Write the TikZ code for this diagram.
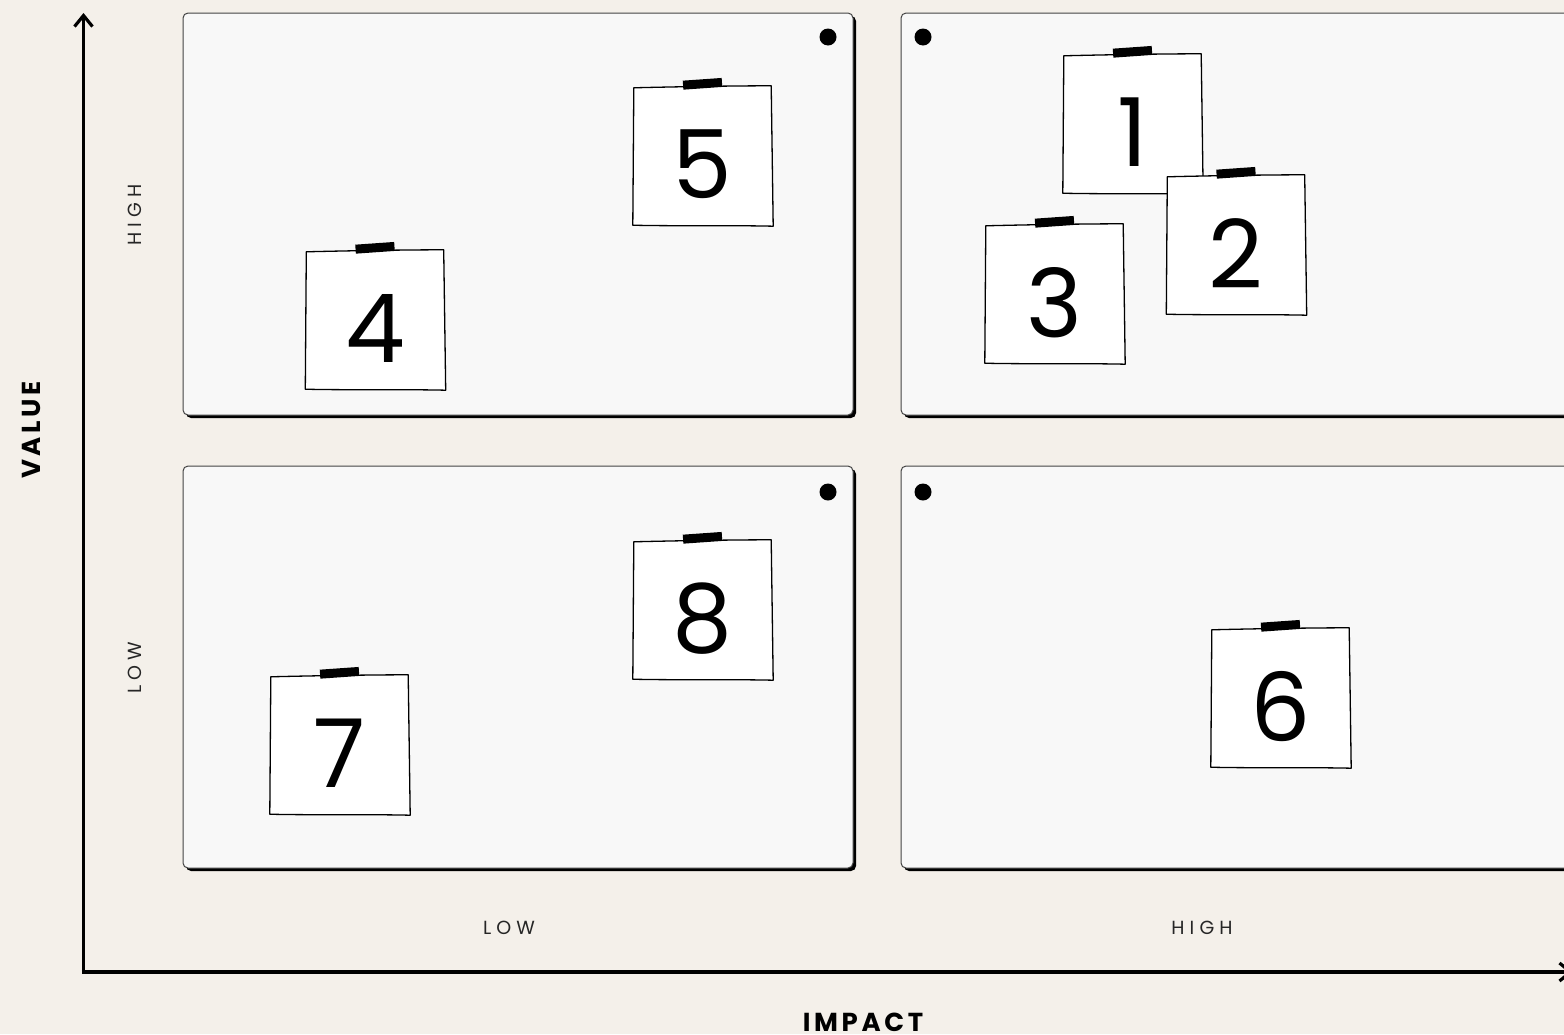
\documentclass[tikz,border=0pt]{standalone}
\usepackage{fontspec}
\setmainfont{Poppins}
\newfontfamily\axisfont[LetterSpace=14]{Poppins}
\newfontfamily\tickfont[LetterSpace=27]{Poppins}
\usetikzlibrary{arrows.meta,shadows}
\definecolor{bgbeige}{HTML}{F4F0EA}
\definecolor{quadfill}{HTML}{F8F8F8}
\definecolor{quadedge}{HTML}{444444}
\tikzset{
  quad/.style={draw=quadedge, line width=1pt, fill=quadfill, rounded corners=5pt,
    minimum width=670pt, minimum height=402pt, inner sep=0pt,
    drop shadow={shadow xshift=3pt, shadow yshift=-3pt, fill=black, opacity=1}},
  pin/.style={circle, fill=black, inner sep=0pt, minimum size=17pt},
  notebox/.style={fill=white, minimum width=139pt, minimum height=139pt, inner sep=0pt},
  noteline/.style={draw=black, line width=1.3pt, line join=round},
  tape/.style={fill=black, minimum width=39pt, minimum height=9pt, inner sep=0pt, rotate=4},
  num/.style={font=\fontsize{95}{95}\selectfont, inner sep=0pt},
  axisline/.style={line width=3.2pt, -{Straight Barb[length=11pt,width=18pt,line width=3.2pt]}},
  axislabel/.style={font=\axisfont\bfseries\fontsize{26}{26}\selectfont, inner sep=0pt},
  ticklabel/.style={font=\tickfont\fontsize{19}{19}\selectfont, text=black!85, inner sep=0pt}
}
\newcommand\stickynote[4]{%
  \node[notebox] (#1) at (#2,#3) {};
  \draw[noteline] ([shift={(1,1)}]#1.north west) .. controls ([shift={(40,0)}]#1.north west) and ([shift={(-40,-1)}]#1.north east) .. ([shift={(-1,-1)}]#1.north east)
     -- ([shift={(1,0)}]#1.south east) .. controls ([shift={(-40,-1)}]#1.south east) and ([shift={(40,0)}]#1.south west) .. ([shift={(0,-1)}]#1.south west) -- cycle;
  \node[tape] (#1t) at ([yshift=3pt]#1.north) {};
  \node[num] (#1d) at ([yshift=-8pt]#1.center) {#4};
}
\begin{document}
\begin{tikzpicture}[x=1pt,y=-1pt]
  \useasboundingbox (0,0) rectangle (1564,1034);
  \clip (0,0) rectangle (1564,1034);
  \fill[bgbeige] (0,0) rectangle (1564,1034);

  % quadrants
  \node[quad] (qtl) at (518,214) {};
  \node[quad] (qtr) at (1236,214) {};
  \node[quad] (qbl) at (518,667) {};
  \node[quad] (qbr) at (1236,667) {};

  % pins
  \node[pin] (ptl) at (828,37) {};
  \node[pin] (ptr) at (923,37) {};
  \node[pin] (pbl) at (828,492) {};
  \node[pin] (pbr) at (923,492) {};

  % axes
  \coordinate (origin) at (83.5,972);
  \coordinate (ytip) at (83.5,13);
  \coordinate (xtip) at (1573,972);
  \draw[axisline] ([yshift=1.6pt]origin) -- (ytip);
  \draw[axisline] ([xshift=-1.6pt]origin) -- (xtip);

  % labels
  \node[axislabel, rotate=90] (lvalue) at (31,430) {VALUE};
  \node[axislabel] (limpact) at (863,1022) {IMPACT};
  \node[ticklabel, rotate=90] (lyhigh) at (135,215) {HIGH};
  \node[ticklabel, rotate=90] (lylow) at (135,668) {LOW};
  \node[ticklabel] (lxlow) at (509,928) {LOW};
  \node[ticklabel] (lxhigh) at (1202,928) {HIGH};

  % sticky notes
  \stickynote{n5}{702.5}{156.5}{5}
  \stickynote{n4}{375}{320.5}{4}
  \stickynote{n1}{1132.5}{124.5}{1}
  \stickynote{n3}{1054.5}{294.5}{3}
  \stickynote{n2}{1236}{245.5}{2}
  \stickynote{n8}{702.5}{610.5}{8}
  \stickynote{n7}{339.5}{745.5}{7}
  \stickynote{n6}{1280.5}{698.5}{6}
\end{tikzpicture}
\end{document}
